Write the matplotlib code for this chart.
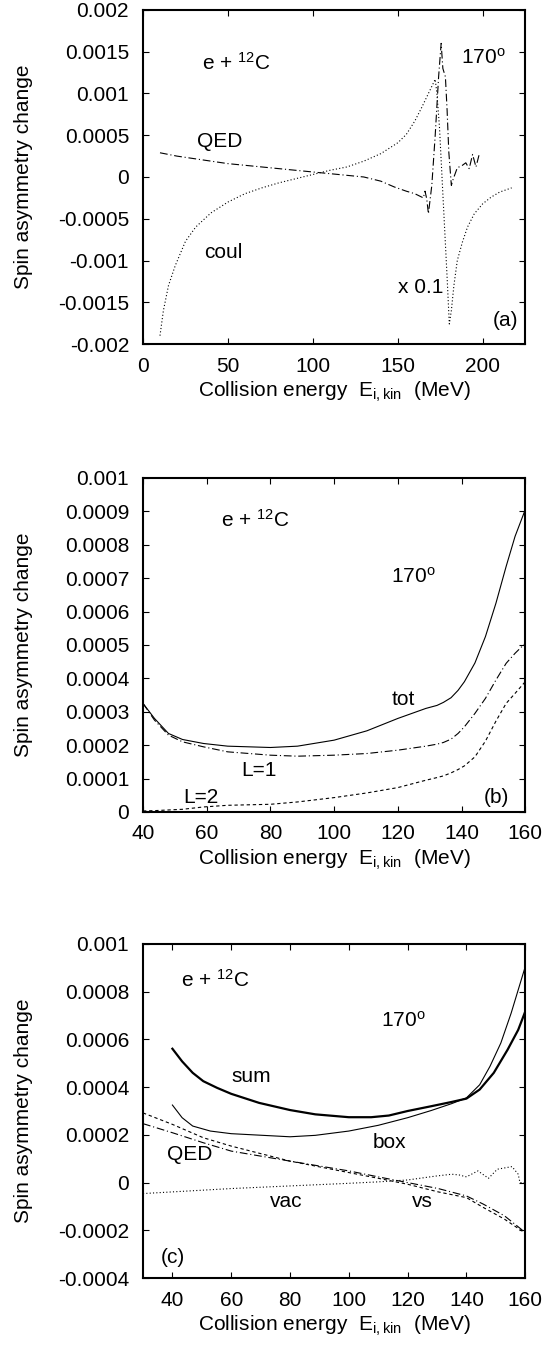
import numpy as np
import matplotlib
matplotlib.use("Agg")
import matplotlib.pyplot as plt
from matplotlib.ticker import FixedLocator, FixedFormatter

plt.rcParams['font.family'] = ['Liberation Sans', 'DejaVu Sans']
plt.rcParams['mathtext.default'] = 'regular'
plt.rcParams['font.size'] = 15

# ---- panel (a) data ----
qed_a_x = [10, 20, 30, 40, 50, 60, 70, 80, 90, 100, 110, 120, 130, 140, 148, 155, 160, 163, 165,
           166, 167, 168, 170, 172, 174, 175.5, 176.5, 178, 179, 180, 181.5, 182.5, 185, 188, 190,
           192, 194, 196, 198]
qed_a_y = [0.00029, 0.00025, 0.00022, 0.00019, 0.00016, 0.00014, 0.00012, 0.0001, 0.00008, 0.00006,
           0.00004, 0.00002, 0.0, -0.00005, -0.00012, -0.00017, -0.0002, -0.00023, -0.00025,
           -0.00017, -0.00026, -0.00044, -0.0001, 0.0005, 0.0012, 0.0016, 0.0013, 0.0012, 0.0008,
           0.0003, -0.0001, -0.00003, 0.00011, 0.00014, 0.00017, 0.0001, 0.00027, 0.00012, 0.00028]
coul_x = [10, 12, 15, 19, 25, 31, 40, 50, 60, 70, 80, 90, 100, 110, 120, 130, 140, 150, 155, 160,
          164, 168, 172, 173, 174.5, 176, 177.5, 179, 180.3, 181.5, 183, 185, 188, 191, 195, 200,
          205, 210, 217]
coul_y = [-0.0019, -0.0016, -0.0013, -0.00106, -0.00077, -0.0006, -0.00043, -0.0003, -0.0002,
          -0.00013, -0.00007, -0.00002, 0.00003, 0.00008, 0.00012, 0.00019, 0.00028, 0.00041,
          0.00051, 0.00067, 0.00083, 0.001, 0.00117, 0.001, 0.0006, 0.0, -0.0006, -0.0012, -0.00176,
          -0.0016, -0.0013, -0.001, -0.00078, -0.0006, -0.00044, -0.00032, -0.00024, -0.00018,
          -0.00013]

# ---- panel (b) data ----
e_b = [40, 43.6, 48, 52.4, 59, 66.6, 80, 88.5, 100, 110.3, 120, 128.8, 132.3, 134.3, 136.7, 138.9,
       140.9, 144.2, 147.5, 150.8, 154, 156.8, 160]
tot_b = [0.000325, 0.00028, 0.000235, 0.000217, 0.000205, 0.000197, 0.000193, 0.000197, 0.000215,
         0.000243, 0.00028, 0.00031, 0.000319, 0.000328, 0.000342, 0.000364, 0.00039, 0.000446,
         0.000525, 0.000625, 0.000735, 0.000825, 0.000905]
l1_b = [0.000325, 0.000275, 0.00023, 0.00021, 0.000195, 0.00018, 0.00017, 0.000167, 0.00017,
        0.000175, 0.000185, 0.000197, 0.000203, 0.000208, 0.000218, 0.000235, 0.000255, 0.000295,
        0.00034, 0.000395, 0.000445, 0.000475, 0.000505]
l2_b = [0.000003, 0.000004, 0.000006, 0.000008, 0.000015, 0.00002, 0.000023, 0.00003, 0.000043,
        0.000057, 0.000073, 0.000095, 0.000103, 0.000108, 0.000117, 0.000127, 0.000138, 0.000165,
        0.000212, 0.000272, 0.000325, 0.000355, 0.00039]

# ---- panel (c) data ----
e_c = [40, 43.3, 46.9, 50.5, 55.2, 60, 69.5, 80, 88.6, 100, 107.6, 113.6, 120, 128, 135, 140,
       144.5, 149.3, 154, 157.6, 160]
sum_c = [0.000561, 0.000508, 0.00046, 0.000425, 0.000397, 0.000372, 0.000334, 0.000304, 0.000286,
         0.000274, 0.000274, 0.000281, 0.0003, 0.00032, 0.000338, 0.000352, 0.00039, 0.00046,
         0.000557, 0.00064, 0.000717]
box_x = [40, 43.3, 46.9, 52.9, 60, 80, 88.6, 100, 110, 120, 128, 135, 140, 144.5, 148, 151.7,
         155.2, 160]
box_c = [0.000325, 0.000272, 0.000237, 0.000216, 0.000205, 0.000192, 0.000198, 0.000216, 0.00024,
         0.000272, 0.000302, 0.000331, 0.000355, 0.00041, 0.000487, 0.000585, 0.00071, 0.000905]
lin_x = [30, 40, 50.5, 60, 80, 100, 110, 120, 130.4, 140, 145.7, 152.9, 160]
qed_c = [0.000247, 0.000209, 0.000167, 0.000132, 0.00009, 0.000049, 0.000024, 0.0, -0.000025,
         -0.000056, -0.00009, -0.000139, -0.000209]
vs_c = [0.000292, 0.000244, 0.000188, 0.000153, 0.00009, 0.000042, 0.000018, -0.000007,
        -0.000039, -0.000063, -0.000104, -0.000153, -0.000212]
vac_x = [30, 40, 60, 80, 100, 110, 120, 130, 135, 137.5, 140, 143.9, 147.5, 150.5, 155.5, 157.6,
         158.2, 160]
vac_c = [-0.000046, -0.000039, -0.000025, -0.000014, -0.000003, 0.000003, 0.000011, 0.000028,
         0.000035, 0.000032, 0.000024, 0.000049, 0.000018, 0.000056, 0.000067, 0.000035, 0.0, 0.0]

yt_a = [-0.002, -0.0015, -0.001, -0.0005, 0, 0.0005, 0.001, 0.0015, 0.002]
yt_b = [0, 0.0001, 0.0002, 0.0003, 0.0004, 0.0005, 0.0006, 0.0007, 0.0008, 0.0009, 0.001]
yt_c = [-0.0004, -0.0002, 0, 0.0002, 0.0004, 0.0006, 0.0008, 0.001]

XLABEL = r'Collision energy  $E_{i,kin}$  (MeV)'
DD = (7, 2.5, 1, 2.5)    # dash-dot
DASH = (3, 2.5)
DOT = (1, 2)


def setupAxes(ax, xlim, xticks, ylim, yticks):
    ax.set_xlim(*xlim)
    ax.set_ylim(*ylim)
    ax.xaxis.set_major_locator(FixedLocator(xticks))
    ax.yaxis.set_major_locator(FixedLocator(yticks))
    ax.yaxis.set_major_formatter(FixedFormatter(['%g' % t for t in yticks]))
    ax.tick_params(direction='in', top=True, right=True, length=4, width=0.8)
    ax.tick_params(axis='y', pad=10)
    ax.tick_params(axis='x', pad=9)
    for s in ax.spines.values():
        s.set_linewidth(1.5)
    ax.set_xlabel(XLABEL)
    ax.set_ylabel('Spin asymmetry change')
    ax.xaxis.set_label_coords(0.5, -0.108)
    ax.yaxis.set_label_coords(-0.287, 0.5)


fig = plt.figure(figsize=(5.5, 13.47), dpi=100)
L, W, H = 0.26, 0.695, 0.248

# (a)
ax = fig.add_axes([L, 0.7446, W, H])
ax.plot(qed_a_x, qed_a_y, color='k', lw=0.8, dashes=DD)
ax.plot(coul_x, coul_y, color='k', lw=0.8, dashes=DOT)
setupAxes(ax, (0, 225), [0, 50, 100, 150, 200], (-0.002, 0.002), yt_a)
ax.text(35, 0.00137, r'e + $^{12}$C', va='center')
ax.text(187, 0.00143, r'170$^{o}$', va='center')
ax.text(32, 0.00043, 'QED', va='center')
ax.text(36, -0.0009, 'coul', va='center')
ax.text(150, -0.00132, 'x 0.1', va='center')
ax.text(206, -0.00172, '(a)', va='center')

# (b)
ax = fig.add_axes([L, 0.3972, W, H])
ax.plot(e_b, tot_b, color='k', lw=0.8)
ax.plot(e_b, l1_b, color='k', lw=0.8, dashes=DD)
ax.plot(e_b, l2_b, color='k', lw=0.8, dashes=DASH)
setupAxes(ax, (40, 160), [40, 60, 80, 100, 120, 140, 160], (0, 0.001), yt_b)
ax.text(64.5, 0.000873, r'e + $^{12}$C', va='center')
ax.text(118, 0.000704, r'170$^{o}$', va='center')
ax.text(118, 0.000336, 'tot', va='center')
ax.text(71, 0.000125, 'L=1', va='center')
ax.text(52.5, 0.000043, 'L=2', va='center')
ax.text(147, 0.000043, '(b)', va='center')

# (c)
ax = fig.add_axes([L, 0.0512, W, H])
ax.plot(e_c, sum_c, color='k', lw=1.6)
ax.plot(box_x, box_c, color='k', lw=0.8)
ax.plot(lin_x, qed_c, color='k', lw=0.8, dashes=DD)
ax.plot(lin_x, vs_c, color='k', lw=0.8, dashes=DASH)
ax.plot(vac_x, vac_c, color='k', lw=0.8, dashes=DOT)
setupAxes(ax, (30, 160), [40, 60, 80, 100, 120, 140, 160], (-0.0004, 0.001), yt_c)
ax.text(42.9, 0.00085, r'e + $^{12}$C', va='center')
ax.text(111, 0.00068, r'170$^{o}$', va='center')
ax.text(60, 0.000446, 'sum', va='center')
ax.text(108, 0.000167, 'box', va='center')
ax.text(38, 0.000118, 'QED', va='center')
ax.text(73, -0.00008, 'vac', va='center')
ax.text(121.3, -0.00008, 'vs', va='center')
ax.text(36, -0.000313, '(c)', va='center')

fig.savefig('out.png', dpi=100)
